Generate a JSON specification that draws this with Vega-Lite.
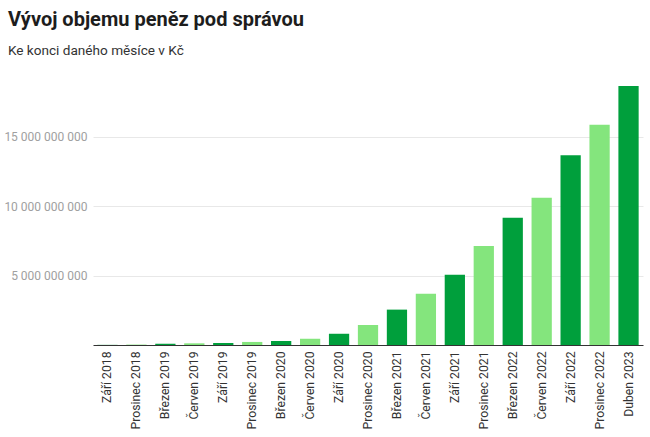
{
  "$schema": "https://vega.github.io/schema/vega-lite/v6.json",
  "width": 550,
  "height": 265,
  "autosize": {"type": "none"},
  "padding": {"left": 93, "top": 80, "right": 7, "bottom": 92},
  "background": "white",
  "title": {
    "text": "Vývoj objemu peněz pod správou",
    "subtitle": "Ke konci daného měsíce v Kč",
    "anchor": "start",
    "dx": 4,
    "offset": 22,
    "font": "Roboto",
    "fontSize": 20,
    "fontWeight": "bold",
    "color": "#1d1d1d",
    "subtitleFont": "Roboto",
    "subtitleFontSize": 13.6,
    "subtitleColor": "#333333",
    "subtitlePadding": 14
  },
  "config": {
    "view": {"stroke": null},
    "axis": {"labelFont": "Roboto", "titleFont": "Roboto"}
  },
  "data": {
    "values": [
      {"mesic": "Září 2018", "objem": 10000000},
      {"mesic": "Prosinec 2018", "objem": 30000000},
      {"mesic": "Březen 2019", "objem": 90000000},
      {"mesic": "Červen 2019", "objem": 120000000},
      {"mesic": "Září 2019", "objem": 150000000},
      {"mesic": "Prosinec 2019", "objem": 220000000},
      {"mesic": "Březen 2020", "objem": 290000000},
      {"mesic": "Červen 2020", "objem": 450000000},
      {"mesic": "Září 2020", "objem": 810000000},
      {"mesic": "Prosinec 2020", "objem": 1440000000},
      {"mesic": "Březen 2021", "objem": 2550000000},
      {"mesic": "Červen 2021", "objem": 3700000000},
      {"mesic": "Září 2021", "objem": 5070000000},
      {"mesic": "Prosinec 2021", "objem": 7140000000},
      {"mesic": "Březen 2022", "objem": 9180000000},
      {"mesic": "Červen 2022", "objem": 10620000000},
      {"mesic": "Září 2022", "objem": 13670000000},
      {"mesic": "Prosinec 2022", "objem": 15880000000},
      {"mesic": "Duben 2023", "objem": 18670000000}
    ]
  },
  "transform": [{"window": [{"op": "row_number", "as": "i"}]}],
  "mark": {"type": "bar"},
  "encoding": {
    "x": {
      "field": "mesic",
      "type": "nominal",
      "sort": null,
      "title": null,
      "scale": {"paddingInner": 0.3, "paddingOuter": 0.15},
      "axis": {
        "labelAngle": -90,
        "labelFontSize": 12.2,
        "labelColor": "#333333",
        "labelPadding": 6,
        "ticks": false,
        "domainColor": "#333333",
        "domainWidth": 1
      }
    },
    "y": {
      "field": "objem",
      "type": "quantitative",
      "title": null,
      "scale": {"domain": [0, 19100000000], "nice": false},
      "axis": {
        "values": [5000000000, 10000000000, 15000000000],
        "labelExpr": "replace(format(datum.value, ','), regexp(',', 'g'), ' ')",
        "labelFontSize": 12,
        "labelColor": "#a0a0a0",
        "labelPadding": 6,
        "ticks": false,
        "domain": false,
        "gridColor": "#e8e8e8",
        "gridWidth": 1
      }
    },
    "color": {
      "condition": {"test": "datum.i % 2 == 1", "value": "#009f3c"},
      "value": "#84e57d"
    }
  }
}
